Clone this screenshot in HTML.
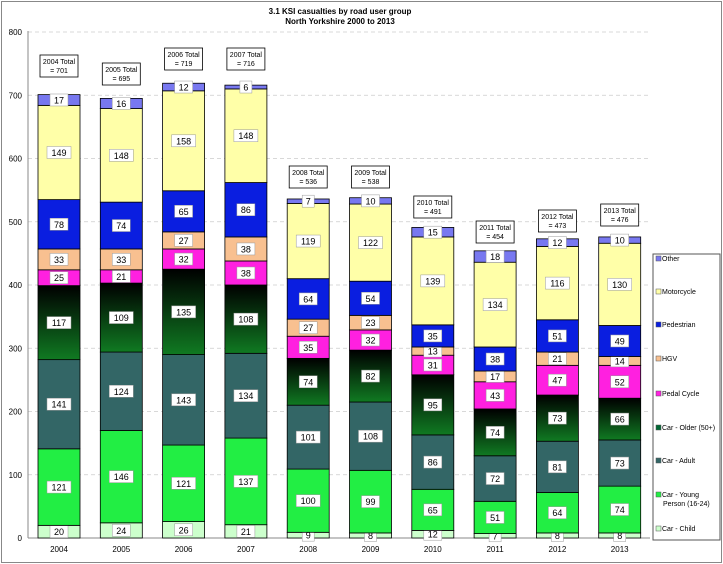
<!DOCTYPE html>
<html><head><meta charset="utf-8"><style>
body{margin:0;background:#fff;}
svg{display:block;font-family:"Liberation Sans",sans-serif;}
</style></head><body>
<svg id="s" width="723" height="564" xmlns="http://www.w3.org/2000/svg">
<defs>
<linearGradient id="og" x1="0" y1="0" x2="0" y2="1">
<stop offset="0" stop-color="#000"/><stop offset="1" stop-color="#107a22"/>
</linearGradient>
</defs>
<rect x="1.5" y="1.5" width="720" height="561" fill="#fff" stroke="#888"/>
<text x="340" y="14" font-size="8" font-weight="bold" text-anchor="middle">3.1 KSI casualties by road user group</text>
<text x="340" y="24" font-size="8" font-weight="bold" text-anchor="middle">North Yorkshire 2000 to 2013</text>
<g id="g"></g>
</svg>
<script>
const S=document.getElementById('s'),G=document.getElementById('g');
const ns='http://www.w3.org/2000/svg';
function el(t,a,txt){const e=document.createElementNS(ns,t);for(const k in a)e.setAttribute(k,a[k]);if(txt!=null)e.textContent=txt;G.appendChild(e);return e;}
const y0=538,sc=506/800,L=28,R=650;
for(let v=0;v<=800;v+=100){const y=y0-v*sc;
 if(v>0)el('line',{x1:L,x2:R,y1:y,y2:y,stroke:'#ccc','stroke-dasharray':'4,3','stroke-width':0.8});
 el('text',{x:22,y:y+3,'font-size':8,'text-anchor':'end'},v);}
el('line',{x1:L,x2:L,y1:31,y2:y0,stroke:'#888'});
el('line',{x1:L,x2:R,y1:y0,y2:y0,stroke:'#888'});
const cols=['#ccffcc','#22ee44','#336666','url(#og)','#ff20e0','#f8c090','#0a1ee0','#ffffa8','#7878f0'];
const data=[[20,121,141,117,25,33,78,149,17],[24,146,124,109,21,33,74,148,16],[26,121,143,135,32,27,65,158,12],[21,137,134,108,38,38,86,148,6],[9,100,101,74,35,27,64,119,7],[8,99,108,82,32,23,54,122,10],[12,65,86,95,31,13,35,139,15],[7,51,72,74,43,17,38,134,18],[8,64,81,73,47,21,51,116,12],[8,74,73,66,52,14,49,130,10]];
const boxTop=[55,63,48,48,166,166,196,221,210,204];
data.forEach((d,i)=>{const cx=59+i*62.3,w=42;let c=0;
 const tot=d.reduce((a,b)=>a+b,0);
 d.forEach((v,j)=>{const yt=y0-(c+v)*sc,h=v*sc;
  el('rect',{x:cx-w/2,y:yt,width:w,height:h,fill:cols[j],stroke:'#000','stroke-width':0.8});
  const ym=yt+h/2,tw=String(v).length*6+6;
  el('rect',{x:cx-tw/2,y:ym-6,width:tw,height:12,fill:'#fff',stroke:'#999','stroke-width':0.5});
  el('text',{x:cx,y:ym+3.5,'font-size':9,'text-anchor':'middle'},v);
  c+=v;});
 el('text',{x:cx,y:552,'font-size':8,'text-anchor':'middle'},2004+i);
 const bt=boxTop[i];
 el('rect',{x:cx-19,y:bt,width:38,height:22,fill:'#fff',stroke:'#000','stroke-width':0.8});
 el('text',{x:cx,y:bt+9,'font-size':7,'text-anchor':'middle'},(2004+i)+' Total');
 el('text',{x:cx,y:bt+18,'font-size':7,'text-anchor':'middle'},'= '+tot);
});
el('rect',{x:653,y:254,width:67,height:286,fill:'#fff',stroke:'#555'});
const names=[['Other'],['Motorcycle'],['Pedestrian'],['HGV'],['Pedal Cycle'],['Car - Older (50+)'],['Car - Adult'],['Car - Young','Person (16-24)'],['Car - Child']];
const ly=[261,294,327,361,396,430,463,497,531];
names.forEach((n,k)=>{const col=cols[8-k]==='url(#og)'?'#063':cols[8-k];
 el('rect',{x:656,y:ly[k]-5,width:5,height:5,fill:col,stroke:'#555','stroke-width':0.5});
 n.forEach((t,m)=>el('text',{x:m?663:662,y:ly[k]+m*9,'font-size':7},t));});
</script>
</body></html>
